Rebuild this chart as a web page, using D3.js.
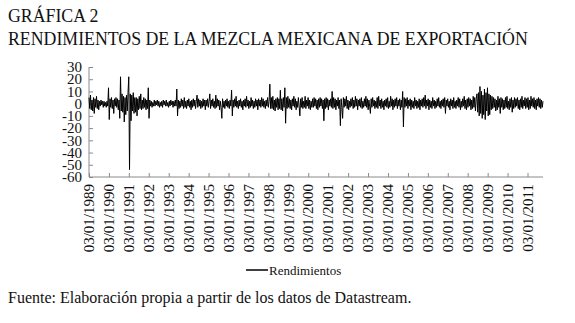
<!DOCTYPE html>
<html>
  <head>
    <meta charset="utf-8" />
    <title>Grafica 2 - Rendimientos</title>
    <style>
      body { margin: 0; background: #ffffff; }
      text { font-family: "Liberation Serif", "Times New Roman", serif; fill: #111; }
    </style>
  </head>
  <body>
    <svg width="575" height="323" id="mainsvg"></svg>
    <script src="https://cdn.jsdelivr.net/npm/d3@7"></script>
    <script>
      const fechaInicio = "1989-01-03";
      const fechaFin = "2011-10-14";
      const anios = d3.range(1989, 2012);
      const etiquetasY = [30, 20, 10, 0, -10, -20, -30, -40, -50, -60];
      const rendimientos = [
        // 1989 - 1991
        5, -4, 7, -5, 3, -6, 5, -8, 4, -3, 6, -4, 3, -5, 2,
        -2, 3, -1, 2, -3, 2, -2, 1, -3, 2, -2,
        13, -13,
        4, -3, 5, -4, 3, -8, 4, -2, 5, -3, 4, -5, 3,
        -12, 22, -6,
        8, -7, 6, -15, 5, -9, 7, -6, 9,
        22, -54,
        8, -14, 7, -6, 9, -8, 5, -7,
        5, -10, 4, -5, 6, -4, 8, -5, 3, -4, 5, -3, 4, -5, 3, -4,
        13, -12,
        // 1992 - 1995
        3, -2, 2, -3, 1, -2, 3, -2, 2, -1, 3, -2, 2, -3, 1, -2, 2, -3,
        3, -1, 2, -2, 3, -2, 1, -3, 2, -2, 3, -1, 2, -3, 2, -2, 3, -2,
        12, -10,
        3, -4, 2, -3, 4, -2, 3, -4, 5, -3, 2, -4, 3, -2, 4, -3, 2, -5, 3, -3,
        4, -2, 3, -4, 2, 7, -3, 4, -2, 3, -4, 2, -3, 4, -2, 3, -5, 3, -2, 4,
        -3, 2, 8, -4, 3, -2, 4, -3, 2, -4, 7, -3, 4, -2, 3, -5, 2, -3,
        -12, 4,
        -3, 2, -4, 3, -2, 4, -3, 2, -4, 3, -2,
        11, -10, 3,
        // 1996 - 1999
        -3, 4, -2, 6, -3, 2, -4, 3, -2, 4, -3, 2, -5, 3, -2, 4, -3, 6, -2, 3,
        -4, 2, -3, 5, -2, 3, -4, 2, -3, 4, -2, 3, -5, 4, -2, 3, -3, 5, -2, 4,
        -3, 2, -4, 3, -2, 5, -3, 2,
        16, -4,
        5, -4, 6, -5, 3, -6, 4, -3, 5, -5, 4, -4,
        11, -5, 4, -6, 5, -3,
        13, -16, 5, -4, 6, -3, 4,
        -4, 3, -5, 4, -2, 6, -3, 4, -5, 2, -3, 5, -2, -10, 4, -3, 5, -4, 2, -3,
        6, -4, 3, -2, 5, -4, 3, -5, 2, -3, 4, -3, 5, -2, 4, -4, 3, -5, 4, -3,
        5, -2, 4, -4, 3,
        // 2000 - 2004
        -14, 4,
        -4, 5, -3, 4, -5, 3, -2, 4, -3,
        10, -4, 5, -3, 4, -5, 3, -2, 5, -4, 3,
        -18, 4, -3, -12,
        5, -3, 4, -2, 6, -4, 3, -5, 2, -3, 4, -2, 5, -4, 3, -3, 6, -2, 4, -5,
        3, -2, 4, -3, 5, -4, 2, -3, 4, -2, 6, -3, 4, -5, 3, -2, -8, 4, -3, 5,
        -2, 3, -4, 2, -3, 5, -4, 6, -2, 3, -4, 4, -3, 2, -5, 3, -2, 4, -3, 5,
        -4, 2, -3, 6, -2, 4, -5, 3, -3, 4, -2, 5, -4, 3, -2, 4, -5, 3, -3,
        // 2005 - 2008
        10, -19, 5,
        -3, 4, -2, 5, -4, 3, -2, 4, -5, 3, -3, 2, -4, 5, -2, 3, -4, 2, -3, 4,
        -5, 3, -2, 4, -3, 5, -2, 7, -4, 3, -2, 4, -5, 3, -3, 2, -4, 5, -2, 3,
        -4, 2, -3, 4, -2, 5, -3, 2, -4, 3, -2, 4, -3, 5, -8, 3, -2, 4, -3, 2,
        -5, 4, -2, 3, -4, 5, -3, 2, -4, 3, -2, 5, -3, 4, -5, 2, -3, 4, -2, 6,
        -4, 3, -5, 4, -3, 5, -2, 4, -5, 3, -4, 6, -3, 5, -6, 4,
        // crisis 2008 - 2009
        8, -7, 9, -10, 14, -8, 10, -12, 7, -9, 12, -13, 9, -6, 13, -10, 8, -9, 7,
        // 2009 - 2011
        -5, 6, -4, 5, -3, 4, -6, 3, -5, 6, -3, 4, -8, 5, -3, 4, -5, 3, -4, 5,
        -3, 6, -4, 2, -5, 4, -3, 5, -7, 3, -4, 5, -3, 4, -2, 5, -4, 3, -5, 4,
        -3, 6, -4, 3, -2, 5, -4, 4, -3, 5, -5, 3, -4, 6, -2, 4, -3, 5, -4, 3,
        -5, 4, -2, 5, -3, 4, -4, 3, -3, 2
      ];

      const svg = d3.select("#mainsvg").style("font-family", "'Liberation Serif', 'Times New Roman', serif");
      const margin = { top: 67, left: 89, right: 32, bottom: 146 };
      const width = +svg.attr("width");
      const height = +svg.attr("height");
      const innerWidth = width - margin.left - margin.right;
      const innerHeight = height - margin.top - margin.bottom;

      const parse = d3.timeParse("%Y-%m-%d");
      const t0 = parse(fechaInicio);
      const t1 = parse(fechaFin);
      const data = rendimientos.map((v, i) => ({
        fecha: new Date(+t0 + ((+t1 - +t0) * i) / (rendimientos.length - 1)),
        valor: v
      }));

      const xScale = d3.scaleTime().domain([t0, t1]).range([0, innerWidth]);
      const yScale = d3.scaleLinear().domain([-60, 30]).range([innerHeight, 0]);

      // titulo
      svg.append("text").attr("x", 8).attr("y", 22).style("font-size", "17.8px").text("GRÁFICA 2");
      svg.append("text").attr("x", 8).attr("y", 45).style("font-size", "17.8px")
        .text("RENDIMIENTOS DE LA MEZCLA MEXICANA DE EXPORTACIÓN");

      const g = svg.append("g").attr("transform", `translate(${margin.left}, ${margin.top})`);

      // eje y, marcas hacia dentro
      const yAxis = d3.axisRight(yScale).tickValues(etiquetasY).tickSize(4).tickFormat("");
      const yAxisGroup = g.append("g").call(yAxis);
      yAxisGroup.select(".domain").attr("d", `M0,0V${innerHeight}`);
      g.append("g").selectAll("text").data(etiquetasY).join("text")
        .attr("x", -7).attr("y", (d) => yScale(d)).attr("dy", "0.35em")
        .attr("text-anchor", "end").style("font-size", "15px")
        .text((d) => d);

      // eje x
      const ticksX = anios.map((a) => parse(`${a}-01-03`));
      const xAxis = d3.axisTop(xScale).tickValues(ticksX).tickSize(4).tickFormat("");
      const xAxisGroup = g.append("g").attr("transform", `translate(0, ${innerHeight})`).call(xAxis);
      xAxisGroup.select(".domain").attr("d", `M0,0H${innerWidth}`);
      g.append("g").selectAll("text").data(ticksX).join("text")
        .attr("transform", (d) => `translate(${xScale(d)}, ${innerHeight + 7}) rotate(-90)`)
        .attr("dy", "0.35em").attr("text-anchor", "end").style("font-size", "15px")
        .text(d3.timeFormat("%d/%m/%Y"));

      [yAxisGroup, xAxisGroup].forEach((ax) => {
        ax.selectAll("path, line").attr("stroke", "#8a8a8a").attr("stroke-width", 1);
      });

      // serie
      const line = d3.line().x((d) => xScale(d.fecha)).y((d) => yScale(d.valor));
      g.append("path").datum(data)
        .attr("fill", "none").attr("stroke", "#000").attr("stroke-width", 1)
        .attr("stroke-linejoin", "bevel")
        .attr("d", line);

      // leyenda
      const leg = svg.append("g").attr("transform", "translate(246, 270)");
      leg.append("line").attr("x1", 0).attr("x2", 22).attr("y1", 0).attr("y2", 0)
        .attr("stroke", "#000").attr("stroke-width", 1.5);
      leg.append("text").attr("x", 23).attr("y", 0).attr("dy", "0.35em").style("font-size", "13px").text("Rendimientos");

      // fuente
      svg.append("text").attr("x", 8).attr("y", 303).style("font-size", "16px")
        .text("Fuente: Elaboración propia a partir de los datos de Datastream.");
    </script>
  </body>
</html>
